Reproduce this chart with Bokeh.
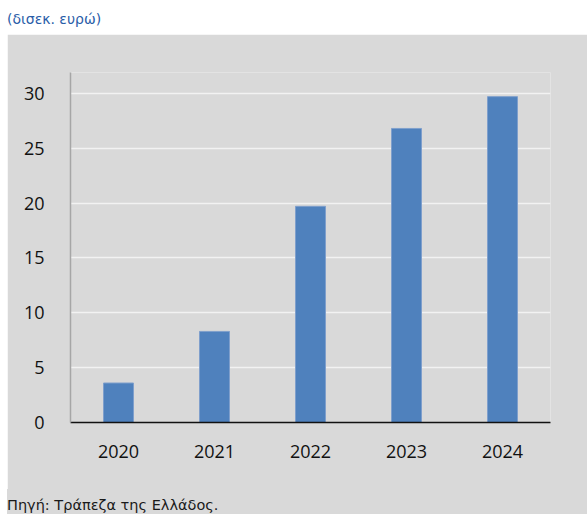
from bokeh.plotting import figure
from bokeh.models import Div, FixedTicker, ColumnDataSource
from bokeh.layouts import column
from bokeh.embed import file_html
from bokeh.resources import INLINE

years = ["2020", "2021", "2022", "2023", "2024"]
values = [3.6, 8.3, 19.7, 26.8, 29.7]
y_ticks = [0, 5, 10, 15, 20, 25, 30]
unit_label = "(δισεκ. ευρώ)"
source_label = "Πηγή: Τράπεζα της Ελλάδος."

BG = "#d9d9d9"
W = 580

title_div = Div(
    text=f'<div style="padding:11px 0 0 0; margin:0; font-family:\'DejaVu Sans\'; font-size:14px; line-height:16px; color:#2a5da8; white-space:nowrap;">{unit_label}</div>',
    width=W, height=34, margin=0,
    styles={"background-color": "white", "margin": "0", "padding": "0"},
)

src = ColumnDataSource(dict(x=years, top=values))

p = figure(
    x_range=years, y_range=(0, 31.9),
    width=W, height=455,
    output_backend="svg", toolbar_location=None,
    min_border_left=63, min_border_right=37, min_border_top=38, min_border_bottom=67,
    background_fill_color=BG, border_fill_color=BG,
    outline_line_color=None, margin=0,
)
p.vbar(x="x", top="top", width=0.3125, source=src,
       fill_color="#4f81bd", line_color="#7f9fcc", line_width=1)

p.xgrid.grid_line_color = None
p.ygrid.grid_line_color = "#f2f2f2"
p.ygrid.grid_line_width = 1.5
p.yaxis.ticker = FixedTicker(ticks=y_ticks)

for ax in (p.xaxis, p.yaxis):
    ax.major_tick_line_color = None
    ax.minor_tick_line_color = None
    ax.major_label_text_font = "Open Sans"
    ax.major_label_text_font_size = "18px"
    ax.major_label_text_color = "#111111"

p.xaxis.axis_line_color = "#111111"
p.xaxis.axis_line_width = 1.5
p.xaxis.major_label_standoff = 16
p.yaxis.axis_line_color = "#a6a6a6"
p.yaxis.axis_line_width = 1.5
p.yaxis.major_label_standoff = 20

src_div = Div(
    text=f'<div style="padding:9px 0 0 0; margin:0; font-family:\'DejaVu Sans\'; font-size:14.5px; line-height:15px; color:#1a1a1a; white-space:nowrap;">{source_label}</div>',
    width=W, height=25, margin=0,
    styles={"background-color": BG, "margin": "0", "padding": "0"},
)

layout = column(title_div, p, src_div, spacing=0, margin=(0, 0, 0, 7))
open("out.html", "w").write(file_html(layout, INLINE))
